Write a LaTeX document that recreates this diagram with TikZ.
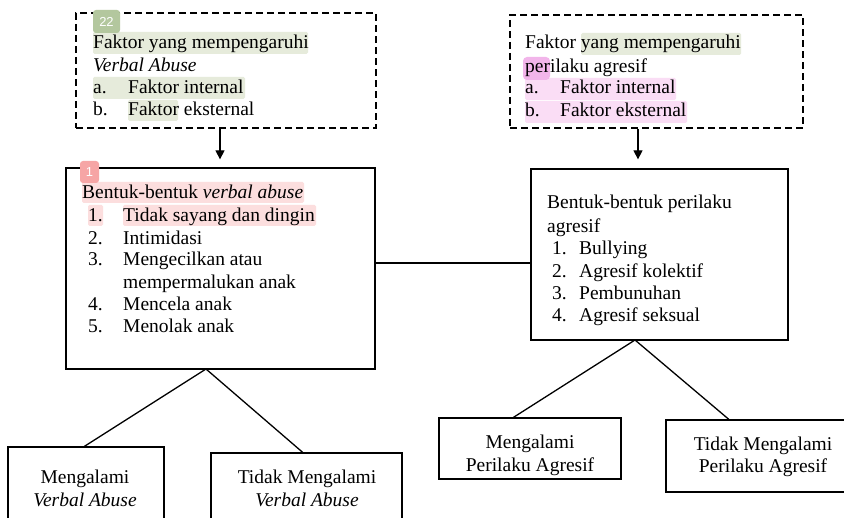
\documentclass[tikz,border=0pt]{standalone}
\usepackage{fontspec}
\setmainfont{Liberation Serif}
\newfontfamily\badgefont{Liberation Sans}
\usetikzlibrary{arrows.meta,calc}
\definecolor{hlgreen}{HTML}{E6EBDB}
\definecolor{badgegreen}{HTML}{B3C79E}
\definecolor{hlpink}{HTML}{FADDF5}
\definecolor{perpink}{HTML}{F2B5EA}
\definecolor{hlred}{HTML}{FCDEDE}
\definecolor{badgered}{HTML}{F6A5A5}
\begin{document}
\begin{tikzpicture}[x=1pt,y=-1pt,
  box/.style={draw, line width=1.3pt, inner sep=0pt},
  dbox/.style={draw, line width=1.6pt, dash pattern=on 7pt off 4pt, inner sep=0pt},
  txt/.style={anchor=base west, inner sep=0pt, font=\fontsize{19.5}{22.5}\selectfont},
  ctxt/.style={align=center, inner sep=0pt, font=\fontsize{19.5}{22.5}\selectfont},
  conn/.style={line width=1.3pt},
  arr/.style={line width=1.3pt, -{Triangle[length=9pt,width=9pt]}},
  hl/.style={rounded corners=1.5pt},
  badge/.style={rounded corners=3pt},
  badgetxt/.style={inner sep=0pt, text=white, font=\badgefont\fontsize{13}{14}\selectfont}]
\useasboundingbox (0,0) rectangle (844,518);
\clip (0,0) rectangle (844,518);
\fill[white] (0,0) rectangle (844,518);

% highlights
\fill[hlgreen,hl] (93,32) rectangle (308,54);
\fill[hlgreen,hl] (93,77) rectangle (245,99);
\fill[hlgreen,hl] (128,100) rectangle (178,121);
\fill[hlgreen,hl] (581,33) rectangle (741,55);
\fill[hlpink,hl] (525,78) rectangle (676,100);
\fill[hlpink,hl] (525,101) rectangle (687,123);
\fill[perpink,rounded corners=4pt] (523,57) rectangle (550,80);
\fill[hlred,hl] (82,182) rectangle (304,203);
\fill[hlred,hl] (88,205) rectangle (103,226);
\fill[hlred,hl] (123,205) rectangle (316,226);

% boxes
\node[dbox, minimum width=300pt, minimum height=115pt] (tl) at (226,70.5) {};
\node[dbox, minimum width=293pt, minimum height=113pt] (tr) at (656.5,71.5) {};
\node[box, minimum width=309pt, minimum height=201pt] (lb) at (220.5,268.5) {};
\node[box, minimum width=257pt, minimum height=171pt] (rb) at (659.5,254.5) {};
\node[box, minimum width=156pt, minimum height=93pt] (ll) at (86,493.5) {};
\node[box, minimum width=191pt, minimum height=87pt] (lr) at (306.5,496.5) {};
\node[box, minimum width=182pt, minimum height=61pt] (rl) at (530,448.5) {};
\node[box, minimum width=194pt, minimum height=72pt] (rr) at (763,456) {};

% badges
\fill[badgegreen,badge] (93,10) rectangle (120,33);
\node[badgetxt] (b22) at (106.5,21.5) {22};
\fill[badgered,badge] (80,161) rectangle (99,183);
\node[badgetxt] (b1) at (89.5,172) {1};

% connectors
\coordinate (ax) at (220,0);
\coordinate (bx) at (638,0);
\coordinate (hy) at (0,263);
\draw[arr, shorten >=8pt] (tl.south -| ax) -- (ax |- lb.north);
\draw[arr, shorten >=9pt] (tr.south -| bx) -- (bx |- rb.north);
\draw[conn] (lb.east |- hy) -- (rb.west |- hy);
\coordinate (la) at (206,369);
\coordinate (ra) at (635,340);
\draw[conn] ($(ll.north west)!0.49!(ll.north east)$) -- (la) -- ($(lr.north west)!0.48!(lr.north east)$);
\draw[conn] ($(rl.north west)!0.41!(rl.north east)$) -- (ra) -- ($(rr.north west)!0.325!(rr.north east)$);

% top left text
\node[txt] (tl1) at (93,49) {Faktor yang mempengaruhi};
\node[txt] (tl2) at (93,72) {\itshape Verbal Abuse};
\node[txt] (tl3a) at (93,94) {a.};
\node[txt] (tl3) at (128,94) {Faktor internal};
\node[txt] (tl4a) at (93,116) {b.};
\node[txt] (tl4) at (128,116) {Faktor eksternal};

% top right text
\node[txt] (tr1) at (525,49) {Faktor yang mempengaruhi};
\node[txt] (tr2) at (525,73) {perilaku agresif};
\node[txt] (tr3a) at (525,94) {a.};
\node[txt] (tr3) at (560,94) {Faktor internal};
\node[txt] (tr4a) at (525,117) {b.};
\node[txt] (tr4) at (560,117) {Faktor eksternal};

% left box text
\node[txt] (l0) at (82,199) {Bentuk-bentuk \textit{verbal abuse}};
\node[txt] (l1a) at (88,222) {1.};
\node[txt] (l1) at (123,222) {Tidak sayang dan dingin};
\node[txt] (l2a) at (88,245) {2.};
\node[txt] (l2) at (123,245) {Intimidasi};
\node[txt] (l3a) at (88,266) {3.};
\node[txt] (l3) at (123,266) {Mengecilkan atau};
\node[txt] (l3b) at (123,289) {mempermalukan anak};
\node[txt] (l4a) at (88,311) {4.};
\node[txt] (l4) at (123,311) {Mencela anak};
\node[txt] (l5a) at (88,333) {5.};
\node[txt] (l5) at (123,333) {Menolak anak};

% right box text
\node[txt] (r0) at (547,209) {Bentuk-bentuk perilaku};
\node[txt] (r0b) at (547,233) {agresif};
\node[txt] (r1a) at (552,255) {1.};
\node[txt] (r1) at (579,255) {Bullying};
\node[txt] (r2a) at (552,278) {2.};
\node[txt] (r2) at (579,278) {Agresif kolektif};
\node[txt] (r3a) at (552,300) {3.};
\node[txt] (r3) at (579,300) {Pembunuhan};
\node[txt] (r4a) at (552,322) {4.};
\node[txt] (r4) at (579,322) {Agresif seksual};

% bottom texts
\node[ctxt] (llt) at (85,488.5) {Mengalami\\\textit{Verbal Abuse}};
\node[ctxt] (lrt) at (307,488.5) {Tidak Mengalami\\\textit{Verbal Abuse}};
\node[ctxt] (rlt) at (530,455.5) {Mengalami\\Perilaku Agresif};
\node[ctxt] (rrt) at (763,457) {Tidak Mengalami\\Perilaku Agresif};
\end{tikzpicture}
\end{document}
